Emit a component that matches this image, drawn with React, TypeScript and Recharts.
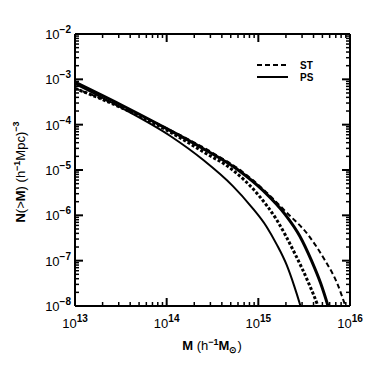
import { Line, LineChart, XAxis, YAxis } from "recharts";

// log10 of mass [h^-1 Msun] and log10 of N(>M) [(h^-1 Mpc)^-3]
const PS_LOW_LOGM = [13.0, 13.5, 14.04, 14.4, 14.72, 14.92, 15.09, 15.2, 15.31, 15.39, 15.46, 15.51];
const PS_LOW_LOGN = [-3.1, -3.62, -4.25, -4.78, -5.35, -5.8, -6.25, -6.64, -7.1, -7.55, -8.0, -8.35];

const PS_HIGH_LOGM = [13.0, 13.5, 13.9, 14.4, 14.78, 15.05, 15.3, 15.45, 15.58, 15.68, 15.76, 15.81];
const PS_HIGH_LOGN = [-3.06, -3.56, -3.98, -4.53, -5.0, -5.45, -6.0, -6.45, -7.0, -7.5, -8.0, -8.35];

const ST_LOW_LOGM = [13.0, 13.5, 14.0, 14.4, 14.72, 15.0, 15.2, 15.4, 15.55, 15.65, 15.7];
const ST_LOW_LOGN = [-3.2, -3.62, -4.12, -4.6, -5.0, -5.55, -6.1, -6.85, -7.5, -8.0, -8.3];

const ST_HIGH_LOGM = [13.0, 13.5, 14.0, 14.5, 14.82, 15.05, 15.3, 15.55, 15.72, 15.86, 15.95, 16.0];
const ST_HIGH_LOGN = [-3.2, -3.6, -4.08, -4.62, -5.03, -5.42, -5.92, -6.45, -6.97, -7.5, -8.0, -8.3];

const X_DECADES = [13, 14, 15, 16];
const Y_DECADES = [-8, -7, -6, -5, -4, -3, -2];

const toRows = (logm: number[], logn: number[]) =>
  logm.map((m, i) => ({ m: Math.pow(10, m), n: Math.pow(10, logn[i]) }));

const withMinors = (decades: number[]) => {
  const out: number[] = [];
  decades.forEach((e, i) => {
    out.push(Math.pow(10, e));
    if (i < decades.length - 1) {
      for (let k = 2; k <= 9; k++) out.push(k * Math.pow(10, e));
    }
  });
  return out;
};

const X_TICKS = withMinors(X_DECADES);
const Y_TICKS = withMinors(Y_DECADES);

const FONT = "'Liberation Sans', Arial, sans-serif";

function decade(v: number) {
  const e = Math.round(Math.log10(v));
  const major = Math.abs(Math.log10(v) - e) < 1e-6;
  return { e, major };
}

function fmtExp(e: number) {
  return e < 0 ? "\u2212" + Math.abs(e) : String(e);
}

function XTick(props: any) {
  const { x, y, payload, side } = props;
  const { e, major } = decade(payload.value);
  const dir = side === "bottom" ? -1 : 1;
  const len = major ? 8 : 4;
  return (
    <g>
      <line x1={x} x2={x} y1={y} y2={y + dir * len} stroke="#000" strokeWidth={major ? 2 : 1.5} />
      {side === "bottom" && major && (
        <text x={x} y={y + 22} textAnchor="middle" fontFamily={FONT} fontSize={13} fill="#000">
          10
          <tspan dy={-6} fontSize={10} fontWeight="bold">
            {fmtExp(e)}
          </tspan>
        </text>
      )}
    </g>
  );
}

function YTick(props: any) {
  const { x, y, payload, side } = props;
  const { e, major } = decade(payload.value);
  const dir = side === "left" ? 1 : -1;
  const len = major ? 8 : 4;
  return (
    <g>
      <line x1={x} x2={x + dir * len} y1={y} y2={y} stroke="#000" strokeWidth={major ? 2 : 1.5} />
      {side === "left" && major && (
        <text x={x - 4} y={y + 5} textAnchor="end" fontFamily={FONT} fontSize={13} fill="#000">
          10
          <tspan dy={-6} fontSize={10} fontWeight="bold">
            {fmtExp(e)}
          </tspan>
        </text>
      )}
    </g>
  );
}

function XTitle() {
  return (
    <text x={212} y={350} textAnchor="middle" fontFamily={FONT} fontSize={13} fill="#000">
      <tspan fontWeight="bold">M</tspan> (h
      <tspan dy={-5} fontSize={9} fontWeight="bold">
        {"\u22121"}
      </tspan>
      <tspan dy={5} fontWeight="bold">M</tspan>
      <tspan dy={3} fontSize={9} fontWeight="bold">
        {"\u2299"}
      </tspan>
      <tspan dy={-3}>)</tspan>
    </text>
  );
}

function YTitle() {
  return (
    <text
      x={0}
      y={0}
      transform="translate(25,172) rotate(-90)"
      textAnchor="middle"
      fontFamily={FONT}
      fontSize={13}
      fill="#000"
    >
      <tspan fontWeight="bold">N</tspan>(&gt;<tspan fontWeight="bold">M</tspan>) (h
      <tspan dy={-5} fontSize={9} fontWeight="bold">
        {"\u22121"}
      </tspan>
      <tspan dy={5}>Mpc)</tspan>
      <tspan dy={-6} fontSize={9} fontWeight="bold">
        {"\u22123"}
      </tspan>
    </text>
  );
}

export default function App() {
  return (
    <div style={{ position: "absolute", left: 0, top: 0, width: 374, height: 374, background: "#fff" }}>
      <LineChart width={374} height={374} margin={{ top: 0, right: 0, bottom: 0, left: 0 }}>
        <XAxis
          xAxisId="b"
          dataKey="m"
          type="number"
          scale="log"
          domain={[1e13, 1e16]}
          allowDataOverflow
          ticks={X_TICKS}
          interval={0}
          height={68}
          tickSize={0}
          tickMargin={0}
          axisLine={{ stroke: "#000", strokeWidth: 2 }}
          tick={(p: any) => <XTick {...p} side="bottom" />}
          label={{ content: () => <XTitle /> }}
        />
        <XAxis
          xAxisId="t"
          orientation="top"
          dataKey="m"
          type="number"
          scale="log"
          domain={[1e13, 1e16]}
          allowDataOverflow
          ticks={X_TICKS}
          interval={0}
          height={34}
          tickSize={0}
          tickMargin={0}
          axisLine={{ stroke: "#000", strokeWidth: 2 }}
          tick={(p: any) => <XTick {...p} side="top" />}
        />
        <YAxis
          yAxisId="l"
          dataKey="n"
          type="number"
          scale="log"
          domain={[1e-8, 1e-2]}
          allowDataOverflow
          ticks={Y_TICKS}
          interval={0}
          width={75}
          tickSize={0}
          tickMargin={0}
          axisLine={{ stroke: "#000", strokeWidth: 2 }}
          tick={(p: any) => <YTick {...p} side="left" />}
          label={{ content: () => <YTitle /> }}
        />
        <YAxis
          yAxisId="r"
          orientation="right"
          dataKey="n"
          type="number"
          scale="log"
          domain={[1e-8, 1e-2]}
          allowDataOverflow
          ticks={Y_TICKS}
          interval={0}
          width={24}
          tickSize={0}
          tickMargin={0}
          axisLine={{ stroke: "#000", strokeWidth: 2 }}
          tick={(p: any) => <YTick {...p} side="right" />}
        />
        <Line
          xAxisId="b"
          yAxisId="l"
          data={toRows(PS_LOW_LOGM, PS_LOW_LOGN)}
          dataKey="n"
          type="monotone"
          stroke="#000"
          strokeWidth={2}
          dot={false}
          isAnimationActive={false}
        />
        <Line
          xAxisId="b"
          yAxisId="l"
          data={toRows(ST_LOW_LOGM, ST_LOW_LOGN)}
          dataKey="n"
          type="monotone"
          stroke="#000"
          strokeWidth={3}
          strokeDasharray="3 2"
          dot={false}
          isAnimationActive={false}
        />
        <Line
          xAxisId="b"
          yAxisId="l"
          data={toRows(PS_HIGH_LOGM, PS_HIGH_LOGN)}
          dataKey="n"
          type="monotone"
          stroke="#000"
          strokeWidth={3}
          dot={false}
          isAnimationActive={false}
        />
        <Line
          xAxisId="b"
          yAxisId="l"
          data={toRows(ST_HIGH_LOGM, ST_HIGH_LOGN)}
          dataKey="n"
          type="monotone"
          stroke="#000"
          strokeWidth={2}
          strokeDasharray="5 3"
          dot={false}
          isAnimationActive={false}
        />
      </LineChart>
      <svg width={374} height={374} style={{ position: "absolute", left: 0, top: 0, pointerEvents: "none" }}>
        <line x1={257} x2={288} y1={65} y2={65} stroke="#000" strokeWidth={2} strokeDasharray="5 3" />
        <line x1={257} x2={288} y1={77} y2={77} stroke="#000" strokeWidth={2} />
        <text x={300} y={69} fontFamily={FONT} fontSize={10} fontWeight="bold" fill="#000">
          ST
        </text>
        <text x={300} y={81} fontFamily={FONT} fontSize={10} fontWeight="bold" fill="#000">
          PS
        </text>
      </svg>
    </div>
  );
}
